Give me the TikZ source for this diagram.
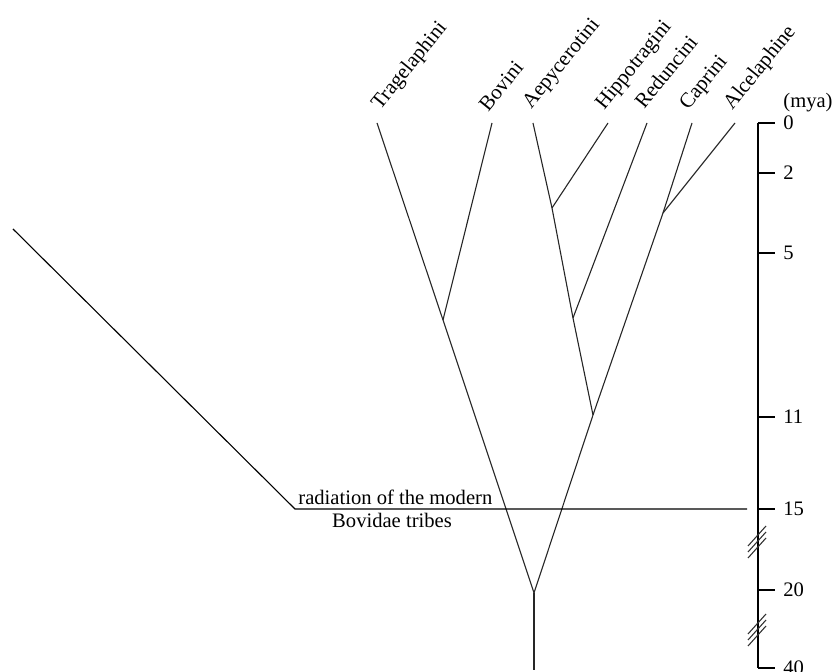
\documentclass[tikz,border=0pt]{standalone}
\usepackage{fontspec}
\setmainfont{Liberation Serif}
\begin{document}
\begin{tikzpicture}[x=0.5pt,y=-0.5pt,
  branch/.style={line width=0.55pt, draw=black!85},
  taxon/.style={rotate=51, anchor=base west, inner sep=0pt, font=\fontsize{10.5}{12}\selectfont},
  plain/.style={inner sep=0pt, font=\fontsize{10.3}{12}\selectfont},
  ticklab/.style={plain, anchor=west},
  axisline/.style={line width=0.55pt, draw=black},
  brk/.style={line width=0.55pt, draw=black!80}]
\useasboundingbox (0,0) rectangle (837,672);
% tree points
\coordinate (tT) at (377,123);
\coordinate (tB) at (492,123);
\coordinate (tAe) at (533,123);
\coordinate (tH) at (608,123);
\coordinate (tR) at (647,123);
\coordinate (tC) at (692,123);
\coordinate (tAl) at (735,123);
\coordinate (jTB) at (443,320);
\coordinate (jAH) at (552,208);
\coordinate (jAHR) at (573,318);
\coordinate (jCA) at (663,213);
\coordinate (jR) at (593,415);
\coordinate (root) at (534,593);
\coordinate (stem) at (534,670);
\coordinate (lTop) at (13,229);
\coordinate (lEnd) at (295,509);
\coordinate (hEnd) at (747,509);
% taxon labels
\node[taxon] (nT) at (380,111) {Tragelaphini};
\node[taxon] (nB) at (488,113) {Bovini};
\node[taxon] (nAe) at (531,110) {Aepycerotini};
\node[taxon] (nH) at (604,111) {Hippotragini};
\node[taxon] (nR) at (644,110) {Reduncini};
\node[taxon] (nC) at (688,111) {Caprini};
\node[taxon] (nAl) at (732,111) {Alcelaphine};
% branches
\draw[branch] (tT) -- (jTB) -- (root);
\draw[branch] (tB) -- (jTB);
\draw[branch] (tAe) -- (jAH) -- (jAHR) -- (jR);
\draw[branch] (tH) -- (jAH);
\draw[branch] (tR) -- (jAHR);
\draw[branch] (tC) -- (jCA) -- (jR) -- (root);
\draw[branch] (tAl) -- (jCA);
\draw[branch] (root) -- (stem);
% radiation line
\draw[axisline] (lTop) -- (lEnd) -- (hEnd);
\node[plain, anchor=base west] (rad1) at (298,505) {radiation of the modern};
\node[plain, anchor=base] (rad2) at (392,528) {Bovidae tribes};
% time axis
\coordinate (a0) at (758,123);
\coordinate (a2) at (758,173);
\coordinate (a5) at (758,253);
\coordinate (a11) at (758,417);
\coordinate (a15) at (758,509);
\coordinate (a20) at (758,590);
\coordinate (a40) at (758,668);
\draw[axisline] (a0) -- (a40);
\foreach \n in {0,2,5,11,15,20,40}{
  \draw[axisline] (a\n) -- ++(17,0) coordinate (k\n);
  \node[ticklab] (lab\n) at ([xshift=4pt]k\n) {\n};
}
\node[plain] (mya) at (808,103) {(mya)};
% break marks
\foreach \c/\m in {542/b1,630/b2}{
  \coordinate (\m) at (757,\c);
  \foreach \d in {-6,0,6}{
    \draw[brk] ([shift={(-9,\d+10)}]\m) -- ([shift={(9,\d-10)}]\m);
  }
}
\end{tikzpicture}
\end{document}
